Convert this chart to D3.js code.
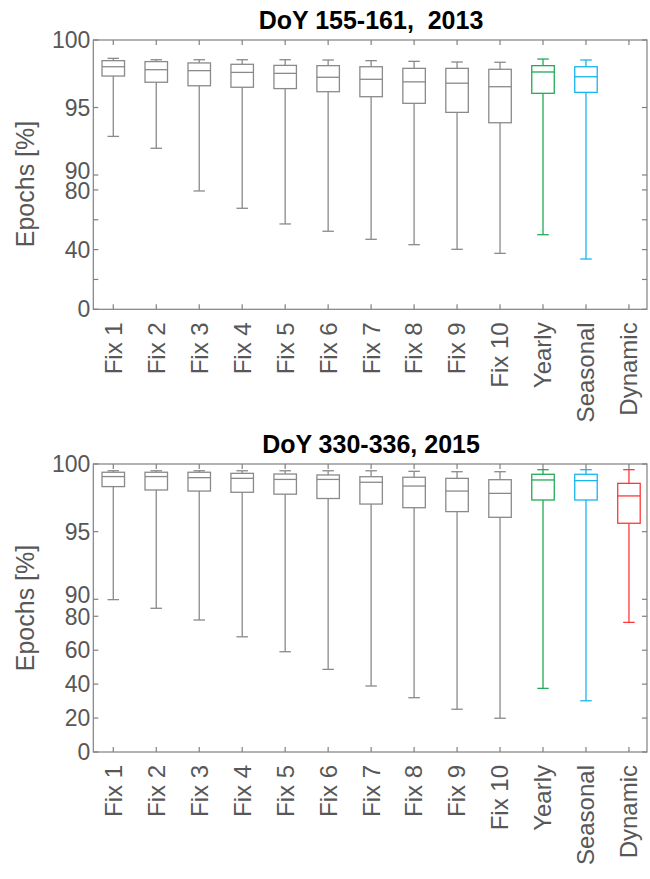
<!DOCTYPE html>
<html>
<head>
<meta charset="utf-8">
<script src="https://cdn.jsdelivr.net/npm/d3@7"></script>
<style>
  body { margin: 0; background: #fff; }
  svg { display: block; font-family: "Liberation Sans", Arial, sans-serif; }
</style>
</head>
<body>
<svg id="chart" width="650" height="879"></svg>
<script>
const categories = ["Fix 1", "Fix 2", "Fix 3", "Fix 4", "Fix 5", "Fix 6", "Fix 7", "Fix 8", "Fix 9", "Fix 10", "Yearly", "Seasonal", "Dynamic"];
const colors = ["#8a8a8a", "#8a8a8a", "#8a8a8a", "#8a8a8a", "#8a8a8a", "#8a8a8a", "#8a8a8a", "#8a8a8a", "#8a8a8a", "#8a8a8a", "#22aa55", "#1ab4f0", "#ff3838"];

// DoY 155-161, 2013 (no Dynamic)
const top2013High = [98.64, 98.54, 98.54, 98.54, 98.54, 98.52, 98.47, 98.42, 98.37, 98.35, 98.59, 98.52, null];
const top2013Q3   = [98.47, 98.40, 98.30, 98.20, 98.12, 98.10, 98.02, 97.90, 97.90, 97.83, 98.10, 98.02, null];
const top2013Med  = [98.02, 97.80, 97.73, 97.60, 97.53, 97.24, 97.09, 96.90, 96.80, 96.54, 97.63, 97.28, null];
const top2013Q1   = [97.33, 96.87, 96.61, 96.50, 96.40, 96.17, 95.80, 95.31, 94.64, 93.87, 96.05, 96.12, null];
const top2013Low  = [92.86, 91.98, 79.3, 67.7, 57.2, 52.3, 46.9, 43.3, 40.2, 37.5, 50.0, 33.7, null];

// DoY 330-336, 2015
const bot2015High = [99.50, 99.50, 99.50, 99.50, 99.50, 99.50, 99.50, 99.46, 99.43, 99.43, 99.58, 99.58, 99.58];
const bot2015Q3   = [99.39, 99.39, 99.39, 99.31, 99.26, 99.19, 99.06, 99.02, 98.94, 98.84, 99.24, 99.24, 98.57];
const bot2015Med  = [99.07, 99.07, 98.99, 98.94, 98.86, 98.86, 98.65, 98.37, 98.00, 97.83, 98.82, 98.77, 97.64];
const bot2015Q1   = [98.33, 98.08, 98.00, 97.91, 97.77, 97.45, 97.04, 96.77, 96.48, 96.06, 97.34, 97.34, 95.62];
const bot2015Low  = [89.8, 84.7, 77.8, 67.9, 59.1, 48.7, 38.9, 32.0, 25.2, 19.9, 37.5, 30.2, 76.4];

const topTicks = [0, 20, 40, 60, 80, 90, 95, 100];
const topTickLabels = ["0", "", "40", "", "80", "90", "95", "100"];
const botTicks = [0, 20, 40, 60, 80, 90, 95, 100];
const botTickLabels = ["0", "20", "40", "60", "80", "90", "95", "100"];

const svg = d3.select("#chart");
const axisColor = "#808080";
const textColor = "#575757";
const left = 93.3, right = 647;

function panel(opts) {
  const g = svg.append("g");
  const x = d3.scaleLinear().domain([0.535, 13.42]).range([left, right]);
  const y = d3.scaleLinear().domain([0, 90, 100]).range([opts.bottom, opts.y90, opts.top]);

  // boxes
  categories.forEach((c, i) => {
    if (opts.med[i] == null) return;
    const cx = x(i + 1);
    const col = colors[i];
    const bw = 22.5, cw = 11.5;
    const b = g.append("g").attr("stroke", col).attr("stroke-width", 1.3).attr("fill", "none");
    b.append("line").attr("x1", cx).attr("x2", cx).attr("y1", y(opts.q3[i])).attr("y2", y(opts.high[i]));
    b.append("line").attr("x1", cx).attr("x2", cx).attr("y1", y(opts.q1[i])).attr("y2", y(opts.low[i]));
    b.append("line").attr("x1", cx - cw / 2).attr("x2", cx + cw / 2).attr("y1", y(opts.high[i])).attr("y2", y(opts.high[i]));
    b.append("line").attr("x1", cx - cw / 2).attr("x2", cx + cw / 2).attr("y1", y(opts.low[i])).attr("y2", y(opts.low[i]));
    b.append("rect").attr("x", cx - bw / 2).attr("width", bw)
      .attr("y", y(opts.q3[i])).attr("height", y(opts.q1[i]) - y(opts.q3[i]));
    b.append("line").attr("x1", cx - bw / 2).attr("x2", cx + bw / 2).attr("y1", y(opts.med[i])).attr("y2", y(opts.med[i]));
  });

  // frame
  g.append("rect").attr("x", left).attr("y", opts.top).attr("width", right - left).attr("height", opts.bottom - opts.top)
    .attr("fill", "none").attr("stroke", axisColor).attr("stroke-width", 1.2);

  const tl = 5;
  // y ticks (both sides, inward)
  opts.ticks.forEach((t, k) => {
    const yy = y(t);
    g.append("line").attr("x1", left).attr("x2", left + tl).attr("y1", yy).attr("y2", yy).attr("stroke", axisColor).attr("stroke-width", 1.2);
    g.append("line").attr("x1", right).attr("x2", right - tl).attr("y1", yy).attr("y2", yy).attr("stroke", axisColor).attr("stroke-width", 1.2);
    if (opts.tickLabels[k] !== "") {
      // the "90" label sits a little above its tick, as in the original
      const shift = t === 90 ? -4 : (t === 80 ? 1 : 0);
      g.append("text").attr("x", left - 3).attr("y", yy + shift).attr("dy", "0.35em")
        .attr("text-anchor", "end").attr("font-size", 23).attr("fill", textColor).text(opts.tickLabels[k]);
    }
  });

  // x ticks (top & bottom, inward) and labels
  categories.forEach((c, i) => {
    const xx = x(i + 1);
    g.append("line").attr("x1", xx).attr("x2", xx).attr("y1", opts.bottom).attr("y2", opts.bottom - tl).attr("stroke", axisColor).attr("stroke-width", 1.2);
    g.append("line").attr("x1", xx).attr("x2", xx).attr("y1", opts.top).attr("y2", opts.top + tl).attr("stroke", axisColor).attr("stroke-width", 1.2);
    g.append("text").attr("transform", `translate(${xx},${opts.bottom + 13}) rotate(-90)`)
      .attr("dy", "0.35em").attr("text-anchor", "end").attr("font-size", 24).attr("fill", textColor).text(c);
  });

  // y label
  g.append("text").attr("transform", `translate(25,${opts.labelY}) rotate(-90)`)
    .attr("dy", "0.35em").attr("text-anchor", "middle").attr("font-size", 25).attr("fill", textColor).text("Epochs [%]");

  // title
  g.append("text").attr("x", 371).attr("y", opts.titleY).attr("text-anchor", "middle")
    .attr("font-size", 25).attr("font-weight", "bold").attr("fill", "#000").attr("xml:space", "preserve").text(opts.title);
}

panel({
  top: 40, y90: 175, bottom: 309.3,
  high: top2013High, q3: top2013Q3, med: top2013Med, q1: top2013Q1, low: top2013Low,
  ticks: topTicks, tickLabels: topTickLabels,
  labelY: 184, titleY: 29, title: "DoY 155-161,  2013"
});

panel({
  top: 464, y90: 599.3, bottom: 752,
  high: bot2015High, q3: bot2015Q3, med: bot2015Med, q1: bot2015Q1, low: bot2015Low,
  ticks: botTicks, tickLabels: botTickLabels,
  labelY: 608, titleY: 453, title: "DoY 330-336, 2015"
});
</script>
</body>
</html>
